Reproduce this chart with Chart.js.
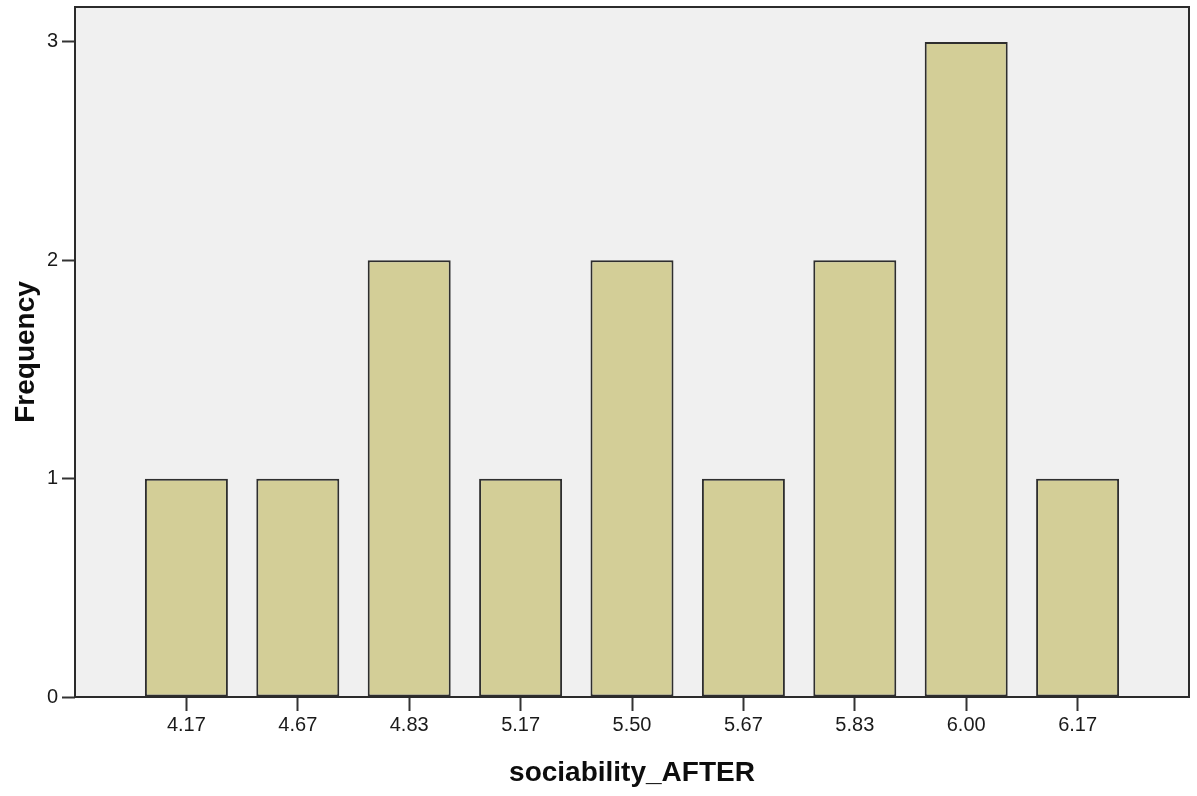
<!DOCTYPE html>
<html>
<head>
<meta charset="utf-8">
<script src="https://cdn.jsdelivr.net/npm/chart.js@4/dist/chart.umd.min.js"></script>
<style>
  html, body { margin: 0; padding: 0; background: #ffffff; }
  #wrap { width: 1197px; height: 796px; }
</style>
</head>
<body>
<div id="wrap"><canvas id="c" width="1197" height="796"></canvas></div>
<script>
const categories = ['4.17', '4.67', '4.83', '5.17', '5.50', '5.67', '5.83', '6.00', '6.17'];
const frequencies = [1, 1, 2, 1, 2, 1, 2, 3, 1];
const yTickValues = [0, 1, 2, 3];
const xTitle = 'sociability_AFTER';
const yTitle = 'Frequency';

// pad an empty slot on each side so bars sit one step in from the frame
const labels = [''].concat(categories, ['']);
const values = [null].concat(frequencies, [null]);

const frame = {
  id: 'frame',
  beforeDraw(chart) {
    const { ctx, chartArea: a } = chart;
    ctx.save();
    ctx.fillStyle = '#f0f0f0';
    ctx.fillRect(a.left, a.top, a.right - a.left, a.bottom - a.top);
    ctx.restore();
  },
  afterDraw(chart) {
    const { ctx, chartArea: a } = chart;
    ctx.save();
    ctx.strokeStyle = '#2b2b2b';
    ctx.lineWidth = 2;
    ctx.strokeRect(a.left, a.top, a.right - a.left, a.bottom - a.top);
    ctx.restore();
  }
};

new Chart(document.getElementById('c'), {
  type: 'bar',
  data: {
    labels: labels,
    datasets: [{
      data: values,
      backgroundColor: '#d3ce97',
      borderColor: '#2e2e2e',
      borderWidth: 2,
      borderSkipped: false,
      barPercentage: 0.745,
      categoryPercentage: 1.0
    }]
  },
  options: {
    responsive: false,
    animation: false,
    layout: { padding: { top: 7, right: 8, left: 0, bottom: 0 } },
    plugins: { legend: { display: false }, tooltip: { enabled: false } },
    scales: {
      x: {
        offset: false,
        border: { display: false },
        grid: {
          offset: false,
          drawOnChartArea: false,
          drawTicks: true,
          tickLength: 14,
          tickWidth: 2,
          tickColor: (c) => (c.index === 0 || c.index === labels.length - 1) ? 'rgba(0,0,0,0)' : '#333333'
        },
        ticks: {
          autoSkip: false,
          maxRotation: 0,
          padding: 2,
          color: '#1a1a1a',
          font: { family: '"Liberation Sans", Arial, sans-serif', size: 20 }
        },
        title: {
          display: true,
          text: xTitle,
          color: '#0d0d0d',
          font: { family: '"Liberation Sans", Arial, sans-serif', size: 28, weight: 'bold' },
          padding: { top: 4, bottom: 6 }
        },
        afterFit: (s) => { s.height = 99; s.paddingLeft = 0; s.paddingRight = 0; }
      },
      y: {
        min: 0,
        max: 3.16,
        border: { display: false },
        grid: {
          drawOnChartArea: false,
          drawTicks: true,
          tickLength: 13,
          tickWidth: 2,
          tickColor: '#333333'
        },
        ticks: {
          stepSize: 1,
          padding: 4,
          color: '#1a1a1a',
          font: { family: '"Liberation Sans", Arial, sans-serif', size: 20 }
        },
        afterBuildTicks: (s) => {
          s.ticks = yTickValues.map(v => ({ value: v }));
        },
        title: {
          display: true,
          text: yTitle,
          color: '#0d0d0d',
          font: { family: '"Liberation Sans", Arial, sans-serif', size: 28, weight: 'bold' },
          padding: { top: 9, bottom: 4 }
        },
        afterFit: (s) => { s.width = 75; s.paddingTop = 0; s.paddingBottom = 0; }
      }
    }
  },
  plugins: [frame]
});
</script>
</body>
</html>
